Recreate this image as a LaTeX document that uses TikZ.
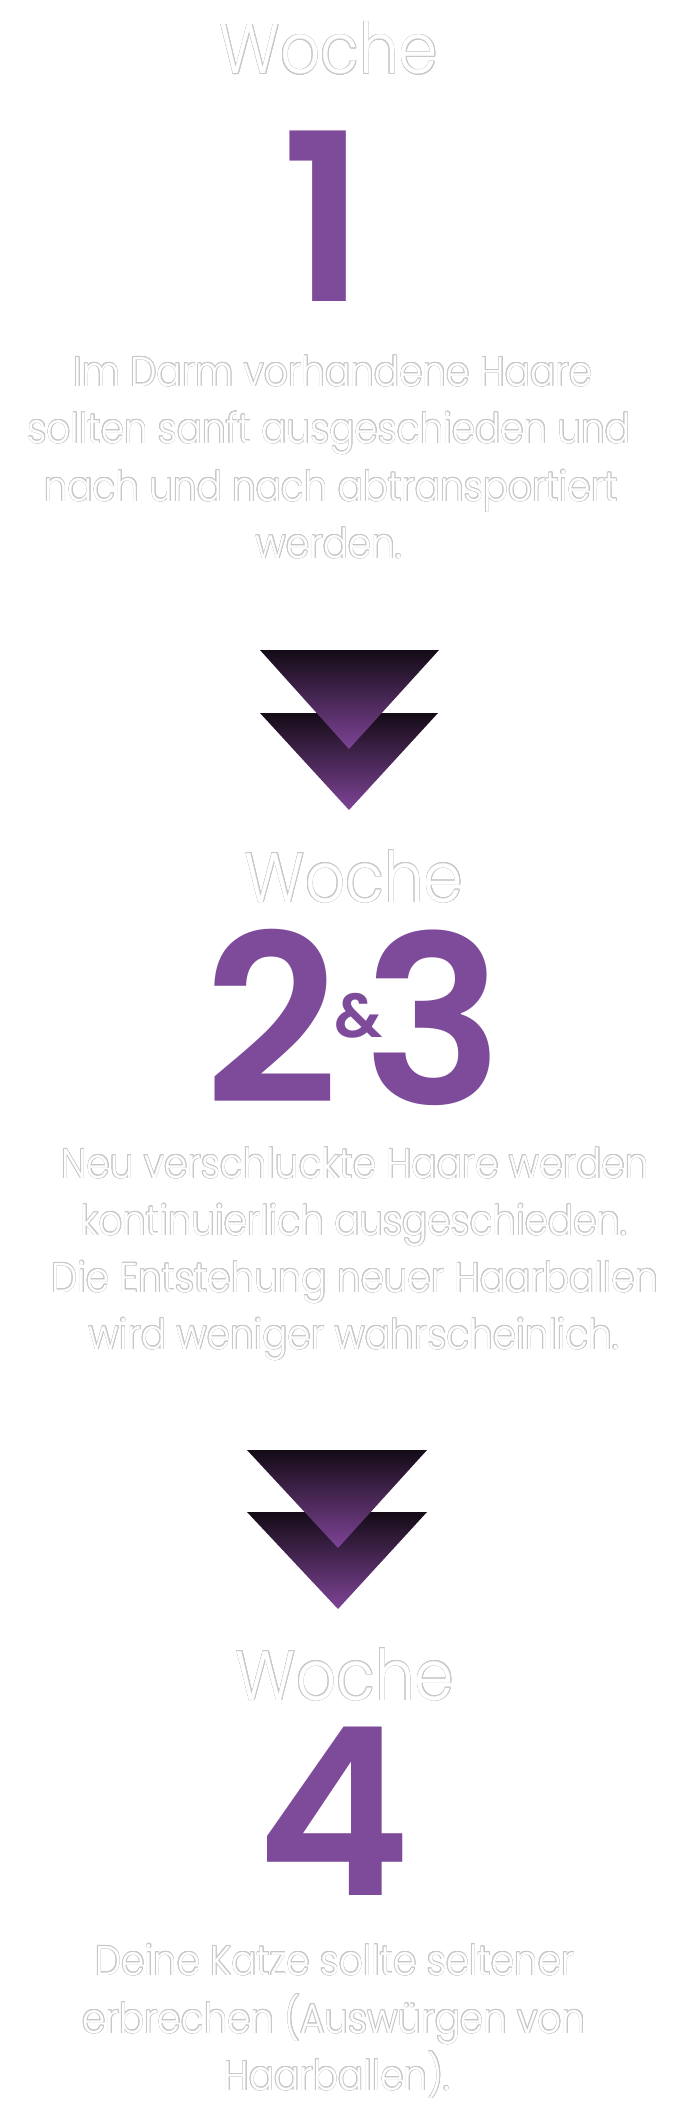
\documentclass[tikz,border=0pt]{standalone}
\usepackage{fontspec}
\setmainfont{Poppins}
\newfontfamily\lightfont[FakeStretch=0.9]{Poppins Light}
\newfontfamily\boldfont{Poppins SemiBold}
\usepackage[copies]{contour}
\contournumber{16}
\contourlength{0.6pt}
\definecolor{numpurple}{HTML}{7E4A9A}
\definecolor{arrowtop}{HTML}{140B16}
\definecolor{arrowbot}{HTML}{7E4496}
\definecolor{edgegray}{HTML}{C8C8C8}
\newcommand\olt[1]{\contour{edgegray}{#1}}
\tikzset{
  week/.style={font=\lightfont\fontsize{70}{70}\selectfont, text=white, inner sep=0pt, anchor=base},
  body/.style={font=\lightfont\fontsize{41.5}{41.5}\selectfont, text=white, inner sep=0pt, anchor=base},
  num/.style={font=\boldfont\fontsize{234}{234}\selectfont, text=numpurple, inner sep=0pt, anchor=base},
  amp/.style={font=\boldfont\fontsize{62}{62}\selectfont, text=numpurple, inner sep=0pt, anchor=base},
  tri/.style={top color=arrowtop, bottom color=arrowbot, draw=none}
}
\begin{document}
\begin{tikzpicture}[x=1pt,y=-1pt]
\fill[white] (0,0) rectangle (694,2124);
\useasboundingbox (0,0) rectangle (694,2124);

% Week 1
\node[week] (w1) at (329,74) {\olt{Woche}};
\node[num] (n1) at (324,302) {1};
\node[body] (p1a) at (333,386) {\olt{Im Darm vorhandene Haare}};
\node[body] (p1b) at (329,443) {\olt{sollten sanft ausgeschieden und}};
\node[body] (p1c) at (331,501) {\olt{nach und nach abtransportiert}};
\node[body] (p1d) at (329,558) {\olt{werden.}};

% arrow 1
\shade[tri] (260,713) -- (438,713) -- (349,810) -- cycle;
\shade[tri] (260,650) -- (439,650) -- (349,749) -- cycle;

% Week 2 & 3
\node[week] (w2) at (354,902) {\olt{Woche}};
\node[num] (n2) at (271.5,1103) {2};
\node[amp] (n23) at (358.5,1037) {\&};
\node[num] (n3) at (433.5,1104) {3};
\node[body] (p2a) at (355,1178) {\olt{Neu verschluckte Haare werden}};
\node[body] (p2b) at (354,1235) {\olt{kontinuierlich ausgeschieden.}};
\node[body] (p2c) at (355,1292) {\olt{Die Entstehung neuer Haarballen}};
\node[body] (p2d) at (354,1349) {\olt{wird weniger wahrscheinlich.}};

% arrow 2
\shade[tri] (247,1512) -- (427,1512) -- (338,1609) -- cycle;
\shade[tri] (247,1450) -- (427,1450) -- (338,1548) -- cycle;

% Week 4
\node[week] (w3) at (345,1700) {\olt{Woche}};
\node[num] (n4) at (334,1895) {4};
\node[body] (p3a) at (335,1975) {\olt{Deine Katze sollte seltener}};
\node[body] (p3b) at (334,2033) {\olt{erbrechen (Auswürgen von}};
\node[body] (p3c) at (337,2090) {\olt{Haarballen).}};
\end{tikzpicture}
\end{document}
